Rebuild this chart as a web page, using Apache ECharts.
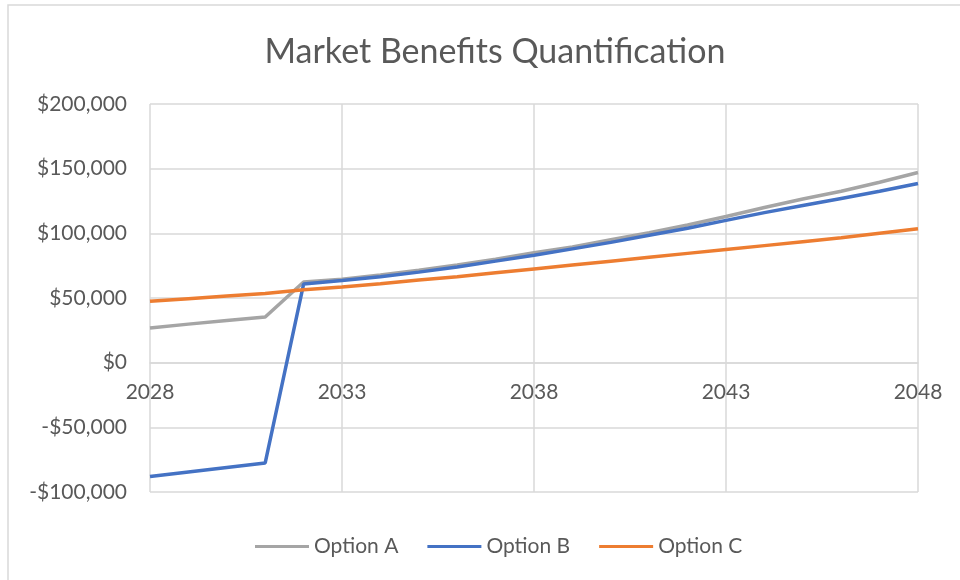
<!DOCTYPE html>
<html>
<head>
<meta charset="utf-8">
<script src="https://cdn.jsdelivr.net/npm/echarts@6/dist/echarts.min.js"></script>
<style>
  html, body { margin: 0; padding: 0; background: #fff; }
  #main { width: 960px; height: 580px; }
</style>
</head>
<body>
<div id="main"></div>
<script>
var years = ['2028','2029','2030','2031','2032','2033','2034','2035','2036','2037','2038',
             '2039','2040','2041','2042','2043','2044','2045','2046','2047','2048'];
var optionA = [26800, 29800, 32600, 35300, 62400, 64500, 67800, 71500, 75500, 80000, 85000,
               89500, 95000, 100500, 106500, 113000, 120000, 126500, 132500, 139500, 147000];
var optionB = [-88000, -84500, -81000, -77500, 60800, 63500, 66500, 70000, 74000, 78500, 83000,
               88000, 93000, 98500, 104000, 110000, 116000, 121500, 127000, 132500, 138500];
var optionC = [47500, 49500, 51500, 53500, 56300, 58500, 61000, 64000, 66500, 69500, 72500,
               75500, 78500, 81500, 84500, 87500, 90500, 93500, 96500, 100000, 103500];

var textColor = '#595959';
var gridColor = '#d9d9d9';
var font = 'Lato, "Open Sans", sans-serif';

function money(v) {
    var s = Math.abs(v).toString().replace(/\B(?=(\d{3})+(?!\d))/g, ',');
    return (v < 0 ? '-$' : '$') + s;
}

var myChart = echarts.init(document.getElementById('main'));
var option = {
    animation: false,
    backgroundColor: '#fff',
    graphic: [{
        type: 'rect',
        shape: { x: 8, y: 5, width: 1000, height: 1000 },
        style: { fill: 'none', stroke: gridColor, lineWidth: 1.5 },
        silent: true
    }],
    title: {
        text: 'Market Benefits Quantification',
        left: 490,
        textAlign: 'center',
        top: 30,
        textStyle: { color: textColor, fontFamily: font, fontSize: 34, fontWeight: 'normal' }
    },
    legend: {
        bottom: 18,
        left: 250,
        icon: 'rect',
        itemWidth: 54,
        itemHeight: 3,
        itemGap: 29,
        textStyle: { color: textColor, fontFamily: font, fontSize: 21 },
        data: ['Option A', 'Option B', 'Option C']
    },
    grid: {
        left: 150,
        right: 42,
        top: 104,
        bottom: 88,
        containLabel: false,
        outerBoundsMode: 'none'
    },
    xAxis: {
        type: 'category',
        boundaryGap: false,
        data: years,
        // line and labels sit at the $0 line, like the Excel original
        offset: -129,
        axisLine: { onZero: false, lineStyle: { color: gridColor, width: 1.5 } },
        axisTick: { show: false },
        axisLabel: {
            interval: 4,
            margin: 19,
            color: textColor,
            fontFamily: font,
            fontSize: 21
        },
        splitLine: {
            show: true,
            interval: 4,
            lineStyle: { color: gridColor, width: 1.5 }
        }
    },
    yAxis: {
        type: 'value',
        min: -100000,
        max: 200000,
        interval: 50000,
        axisLine: { show: false },
        axisTick: { show: false },
        axisLabel: {
            margin: 23,
            color: textColor,
            fontFamily: font,
            fontSize: 21,
            formatter: money
        },
        splitLine: { lineStyle: { color: gridColor, width: 1.5 } }
    },
    series: [
        {
            name: 'Option A',
            type: 'line',
            symbol: 'none',
            data: optionA,
            itemStyle: { color: '#a5a5a5' },
            lineStyle: { color: '#a5a5a5', width: 3.5 }
        },
        {
            name: 'Option B',
            type: 'line',
            symbol: 'none',
            data: optionB,
            itemStyle: { color: '#4472c4' },
            lineStyle: { color: '#4472c4', width: 3.5 }
        },
        {
            name: 'Option C',
            type: 'line',
            symbol: 'none',
            data: optionC,
            itemStyle: { color: '#ed7d31' },
            lineStyle: { color: '#ed7d31', width: 3.5 }
        }
    ]
};
myChart.setOption(option);
</script>
</body>
</html>
